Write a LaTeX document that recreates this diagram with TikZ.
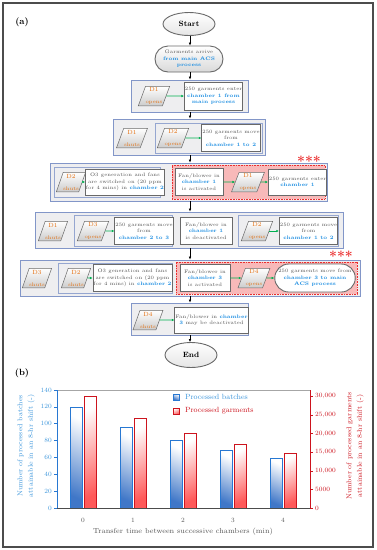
\documentclass[tikz,border=0pt]{standalone}
\usepackage{fontspec}
\usetikzlibrary{shapes.geometric,shapes.misc,arrows.meta}
\definecolor{chblue}{RGB}{25,140,225}
\definecolor{dorange}{RGB}{228,108,10}
\definecolor{tgray}{RGB}{85,85,85}
\definecolor{bgray}{RGB}{105,105,105}
\definecolor{grpblue}{RGB}{130,150,200}
\definecolor{grpfill}{RGB}{238,238,240}
\definecolor{pinkfill}{RGB}{248,185,185}
\definecolor{gline}{RGB}{0,176,80}
\definecolor{redd}{RGB}{235,45,45}
\definecolor{axblue}{RGB}{40,120,210}
\definecolor{labblue}{RGB}{60,150,220}
\definecolor{barblue}{RGB}{30,95,190}
\definecolor{axred}{RGB}{205,20,30}
\newcommand\ch[1]{\textcolor{chblue}{\bfseries #1}}
\newcommand\tf{\fontsize{5}{6.5}\selectfont}
\newcommand\dn[2]{{\fontsize{6}{7}\selectfont #1}\\{\fontsize{5}{6}\selectfont #2}}
\newcommand\tickf{\fontsize{6.5}{7}\selectfont}
\begin{document}
\begin{tikzpicture}[x=1pt,y=-1pt,
  grp/.style={draw=grpblue,line width=0.9pt,fill=grpfill,inner sep=0pt},
  ibox/.style={draw=grpblue!85,line width=0.6pt,fill=grpfill,inner sep=0pt},
  rbox/.style={draw=bgray,line width=0.9pt,fill=white,text=tgray,align=center,font=\tf,inner sep=0.5pt},
  para/.style={trapezium,trapezium left angle=67,trapezium right angle=113,trapezium stretches=true,draw=bgray,line width=0.5pt,top color=white,bottom color=gray!40,text=dorange,align=center,inner sep=0pt,minimum width=31pt,minimum height=19.5pt},
  redbox/.style={draw=redd,dash pattern=on 0.8pt off 0.8pt,line width=1pt,fill=pinkfill,inner sep=0pt},
  garr/.style={draw=gline,line width=0.8pt,-{Latex[length=2.6pt,width=2.6pt]}},
  flow/.style={draw=black,line width=0.5pt,-{Latex[length=3pt,width=2.6pt]}},
  term/.style={ellipse,draw=bgray,line width=0.9pt,top color=white,bottom color=gray!20,font=\fontsize{7.6}{8}\selectfont\bfseries,minimum width=52pt,minimum height=23pt,inner sep=0pt},
  stad/.style={rounded rectangle,draw=bgray,line width=0.9pt,text=tgray,align=center,font=\tf,inner sep=0.5pt},
  stars/.style={text=redd,font=\fontsize{14}{14}\selectfont\bfseries,inner sep=0pt},
  ticklab/.style={font=\tickf,inner sep=0pt},
  bbar/.style={draw=axblue,line width=0.6pt,top color=white,bottom color=barblue!85,shading angle=-25},
  rbar/.style={draw=axred,line width=0.6pt,top color=white,bottom color=red!65,shading angle=25}
]
\useasboundingbox (0,0) rectangle (377,550);
\fill[white] (0,0) rectangle (377,550);
\draw[draw=gray!60!black,line width=1.2pt] (3,3) rectangle (373,547);
\coordinate (X) at (190,0);

\node[font=\fontsize{9}{9}\selectfont\bfseries,inner sep=0pt] (la) at (22,22) {(a)};

% start / arrive
\node[term] (start) at (189,24) {Start};
\node[stad,top color=white,bottom color=gray!30,minimum width=69pt,minimum height=26pt] (arr) at (189,59) {Garments arrive\\\ch{from main ACS}\\\ch{process}};

% box 1
\node[grp,minimum width=117pt,minimum height=32pt] (b1) at (189.5,96) {};
\node[para] (p11) at (154,96) {\dn{D1}{opens}};
\node[rbox,minimum width=57pt,minimum height=28pt] (r11) at (213.5,96) {250 garments enter\\\ch{chamber 1 from}\\\ch{main process}};
\draw[garr] (p11) -- (r11);

% box 2
\node[grp,minimum width=152pt,minimum height=36pt] (b2) at (189,137) {};
\node[ibox,minimum width=107pt,minimum height=30pt] (i2) at (208.5,138) {};
\node[para] (p21) at (132,138) {\dn{D1}{shuts}};
\node[para] (p22) at (173,138) {\dn{D2}{opens}};
\node[rbox,minimum width=58pt,minimum height=27pt] (r21) at (231,138) {250 garments move\\from\\\ch{chamber 1 to 2}};
\draw[garr] (p22) -- (r21);

% box 3
\node[grp,minimum width=277pt,minimum height=38pt] (b3) at (188.5,182) {};
\node[ibox,minimum width=106pt,minimum height=30pt] (i3) at (107,182) {};
\node[redbox,minimum width=153pt,minimum height=34pt] (red3) at (248.5,182) {};
\node[para,minimum width=28pt] (p31) at (71,182) {\dn{D2}{shuts}};
\node[rbox,minimum width=66pt,minimum height=26pt] (r31) at (125,182) {O3 generation and fans\\are switched on (20 ppm\\for 4 mins) in \ch{chamber 2}};
\node[rbox,minimum width=48pt,minimum height=27pt] (r32) at (199,182) {Fan/blower in\\\ch{chamber 1}\\is activated};
\node[para,minimum width=33pt] (p32) at (248,182) {\dn{D1}{opens}};
\node[rbox,minimum width=51pt,minimum height=26pt] (r33) at (297.5,182) {250 garments enter\\\ch{chamber 1}};
\draw[garr] (p31) -- (r31);
\draw[garr] (r32) -- (p32);
\draw[garr] (p32) -- (r33);
\node[stars] (st3) at (309,161.5) {***};

% box 4
\node[grp,minimum width=308pt,minimum height=36pt] (b4) at (189,230) {};
\node[para,minimum width=29pt] (p41) at (53,231) {\dn{D1}{shuts}};
\node[ibox,minimum width=98pt,minimum height=31pt] (i41) at (123,230.5) {};
\node[para,minimum width=30pt] (p42) at (93,231) {\dn{D3}{opens}};
\node[rbox,minimum width=52pt,minimum height=27pt] (r41) at (144,231) {250 garments move\\from\\\ch{chamber 2 to 3}};
\node[rbox,line width=0.7pt,minimum width=52pt,minimum height=27pt] (r42) at (206,231) {Fan/blower in\\\ch{chamber 1}\\is deactivated};
\node[ibox,minimum width=100pt,minimum height=31pt] (i42) at (288,230.5) {};
\node[para,minimum width=30pt] (p43) at (257,231) {\dn{D2}{opens}};
\node[rbox,minimum width=53pt,minimum height=27pt] (r43) at (308.5,231) {250 garments move\\from\\\ch{chamber 1 to 2}};
\draw[garr] (p42) -- (r41);
\draw[garr] (p43) -- (r43);

% box 5
\node[grp,minimum width=340pt,minimum height=36pt] (b5) at (190,278) {};
\node[para,minimum width=27pt] (p51) at (37,278) {\dn{D3}{shuts}};
\node[ibox,minimum width=114pt,minimum height=30pt] (i51) at (115,278) {};
\node[para,minimum width=29pt] (p52) at (76,278) {\dn{D2}{shuts}};
\node[rbox,minimum width=65pt,minimum height=27pt] (r51) at (132.5,278) {O3 generation and fans\\are switched on (20 ppm\\for 4 mins) in \ch{chamber 2}};
\node[redbox,minimum width=181pt,minimum height=32pt] (red5) at (266.5,278) {};
\node[rbox,minimum width=50pt,minimum height=27pt] (r52) at (205,278) {Fan/blower in\\\ch{chamber 3}\\is activated};
\node[para,minimum width=32pt] (p53) at (254,278) {\dn{D4}{opens}};
\node[stad,fill=white,minimum width=74pt,minimum height=28pt] (s51) at (315,278) {250 garments move from\\\ch{chamber 3 to main}\\\ch{ACS process}};
\draw[garr] (p52) -- (r51);
\draw[garr] (r52) -- (p53);
\draw[garr] (p53) -- (s51);
\node[stars] (st5) at (341,256.5) {***};

% box 6
\node[grp,minimum width=117pt,minimum height=32pt] (b6) at (189.5,319) {};
\node[para,minimum width=30pt] (p61) at (148,320) {\dn{D4}{shuts}};
\node[rbox,minimum width=63pt,minimum height=26pt] (r61) at (211.5,320) {Fan/blower in \ch{chamber}\\\ch{3} may be deactivated};
\draw[garr] (p61) -- (r61);

\node[term,minimum height=25pt] (end) at (191,355) {End};

% flow arrows
\draw[flow] (start.south -| X) -- (arr.north -| X);
\draw[flow] (arr.south -| X) -- (b1.north -| X);
\draw[flow] (b1.south -| X) -- (b2.north -| X);
\draw[flow] (b2.south -| X) -- (b3.north -| X);
\draw[flow] (b3.south -| X) -- (b4.north -| X);
\draw[flow] (b4.south -| X) -- (b5.north -| X);
\draw[flow] (b5.south -| X) -- (b6.north -| X);
\draw[flow] (b6.south -| X) -- (end.north -| X);

% ---------------- chart (b)
\node[font=\fontsize{9}{9}\selectfont\bfseries,inner sep=0pt] (lb) at (22,373) {(b)};
\foreach \i/\b/\r in {0/120/30,1/96/24,2/80/20,3/68/17,4/59/14.75} {
  \draw[bbar] ({70+50*\i},508) rectangle ({82+50*\i},{508-0.8429*\b});
  \draw[rbar] ({84+50*\i},508) rectangle ({96+50*\i},{508-3.72*\r});
  \node[ticklab,text=tgray] (xt\i) at ({83+50*\i},520) {\i};
}
\draw[gray!70,line width=0.5pt] (57,390) -- (310,390);
\draw[gray!60!black,line width=1pt] (57,508) -- (310,508);
\draw[axblue,line width=0.8pt] (57,390) -- (57,508);
\draw[axred,line width=0.8pt] (310,390) -- (310,508);
\foreach \v in {0,20,...,140} {
  \draw[axblue,line width=0.5pt] (54,{508-0.8429*\v}) -- (57,{508-0.8429*\v});
  \node[ticklab,anchor=east,text=labblue] (yt\v) at (52,{508-0.8429*\v}) {\v};
}
\foreach \v/\t in {0/0,5/5000,10/{10,000},15/{15,000},20/{20,000},25/{25,000},30/{30,000}} {
  \draw[axred,line width=0.5pt] (310,{508-3.72*\v}) -- (313,{508-3.72*\v});
  \node[ticklab,anchor=west,text=axred] (rt\v) at (315,{508-3.72*\v}) {\t};
}
\node[bbar,minimum size=6pt,inner sep=0pt] (lg1) at (176.5,397) {};
\node[anchor=west,text=labblue,font=\fontsize{7.5}{8}\selectfont,inner sep=0pt] (lt1) at (185,397) {Processed batches};
\node[rbar,minimum size=6pt,inner sep=0pt] (lg2) at (176.5,411) {};
\node[anchor=west,text=axred,font=\fontsize{7.5}{8}\selectfont,inner sep=0pt] (lt2) at (185,411) {Processed garments};
\node[rotate=90,text=labblue,align=center,font=\fontsize{7}{10.5}\selectfont,inner sep=0pt] (yl) at (26,446) {Number of processed batches\\attainable in an 8-hr shift (-)};
\node[rotate=90,text=axred,align=center,font=\fontsize{7}{10.5}\selectfont,inner sep=0pt] (yr) at (355,446) {Number of processed garments\\attainable in an 8-hr shift (-)};
\node[text=tgray,font=\fontsize{7.3}{8}\selectfont,inner sep=0pt] (xl) at (183,532) {Transfer time between successive chambers (min)};
\end{tikzpicture}
\end{document}
